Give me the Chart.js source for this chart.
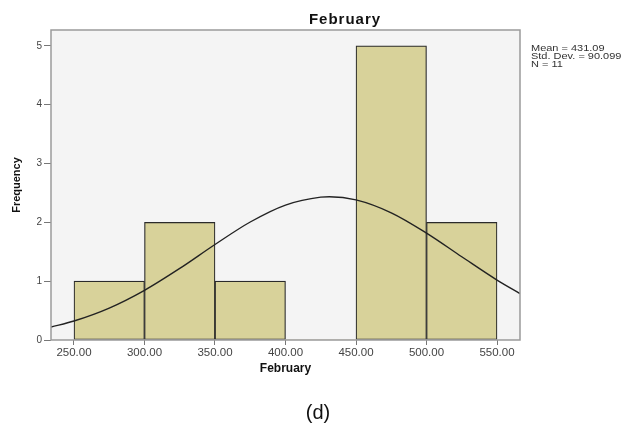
<!DOCTYPE html>
<html>
<head>
<meta charset="utf-8">
<script src="https://cdn.jsdelivr.net/npm/chart.js@4/dist/chart.umd.min.js"></script>
<style>
  html, body { margin: 0; padding: 0; background: #fff; }
  #wrap { width: 629px; height: 428px; position: relative; }
</style>
</head>
<body>
<div id="wrap"><canvas id="c" width="629" height="428"></canvas></div>
<script>
// Histogram bins (midpoints) and their counts
const binCenters = [275, 325, 375, 425, 475, 525];
const binCounts  = [1, 2, 1, 0, 5, 2];

// Fitted normal curve (scaled to counts), sampled along the axis
const curveX = [233.7, 250, 275, 300, 325, 350, 375, 400, 425, 431.09, 450, 475, 500, 525, 550, 566.3];
const curveY = [0.221, 0.323, 0.543, 0.845, 1.217, 1.624, 2.006, 2.294, 2.429, 2.435, 2.382, 2.162, 1.817, 1.415, 1.019, 0.790];

// Axis ticks
const xTickValues = [250, 300, 350, 400, 450, 500, 550];
const xTickLabels = ["250.00", "300.00", "350.00", "400.00", "450.00", "500.00", "550.00"];
const yTickValues = [0, 1, 2, 3, 4, 5];

// Summary statistics
const statLines = ["Mean = 431.09", "Std. Dev. = 90.099", "N = 11"];

const FONT = "'Liberation Sans', Arial, sans-serif";

const frame = {
  id: 'frame',
  beforeDatasetsDraw(chart) {
    const { ctx, chartArea: a } = chart;
    ctx.save();
    ctx.fillStyle = '#f4f4f4';
    ctx.fillRect(a.left, a.top, a.right - a.left, a.bottom - a.top);
    ctx.restore();
  },
  afterDraw(chart) {
    const { ctx, chartArea: a } = chart;
    ctx.save();
    ctx.strokeStyle = '#9a9a9a';
    ctx.lineWidth = 1.5;
    ctx.strokeRect(a.left, a.top, a.right - a.left, a.bottom - a.top);

    // chart heading
    ctx.fillStyle = '#111';
    ctx.font = 'bold 15px ' + FONT;
    ctx.letterSpacing = '1px';
    ctx.textAlign = 'center';
    ctx.textBaseline = 'middle';
    ctx.fillText('February', 345, 20);
    ctx.letterSpacing = '0px';

    // summary statistics, set in a wide face
    ctx.save();
    ctx.translate(531, 0);
    ctx.scale(1.22, 1);
    ctx.font = '9px ' + FONT;
    ctx.fillStyle = '#333';
    ctx.textAlign = 'left';
    statLines.forEach((s, i) => ctx.fillText(s, 0, 48.5 + i * 8));
    ctx.restore();

    // panel label
    ctx.font = '20px ' + FONT;
    ctx.fillStyle = '#111';
    ctx.textAlign = 'center';
    ctx.fillText('(d)', 318, 413);
    ctx.restore();
  }
};

new Chart(document.getElementById('c'), {
  type: 'bar',
  data: {
    datasets: [
      {
        type: 'line',
        data: curveX.map((x, i) => ({ x, y: curveY[i] })),
        borderColor: '#222',
        borderWidth: 1.4,
        pointRadius: 0,
        cubicInterpolationMode: 'monotone',
        fill: false,
        order: 1
      },
      {
        type: 'bar',
        data: binCenters.map((x, i) => ({ x, y: binCounts[i] })),
        backgroundColor: 'rgb(216,210,154)',
        borderColor: '#2a2a2a',
        borderWidth: c => (c.raw && c.raw.y === 0 ? 0 : 1.2),
        borderSkipped: false,
        barPercentage: 1,
        categoryPercentage: 1,
        order: 2
      }
    ]
  },
  plugins: [frame],
  options: {
    responsive: false,
    animation: false,
    layout: { padding: { top: 30, right: 109, bottom: 52, left: 0 } },
    plugins: { legend: { display: false }, tooltip: { enabled: false }, title: { display: false } },
    scales: {
      x: {
        type: 'linear',
        offset: false,
        min: 233.7,
        max: 566.3,
        afterBuildTicks: s => { s.ticks = xTickValues.map(v => ({ value: v })); },
        afterFit: s => { s.height = 36; },
        grid: { offset: false, drawOnChartArea: false, drawTicks: true, tickLength: 5, color: '#777' },
        border: { display: false },
        ticks: {
          autoSkip: false,
          maxRotation: 0,
          padding: 1,
          color: '#444',
          font: { family: FONT, size: 11.5 },
          callback: v => xTickLabels[xTickValues.indexOf(v)] ?? ''
        },
        title: {
          display: true,
          text: 'February',
          color: '#111',
          font: { family: FONT, size: 12, weight: 'bold' },
          padding: { top: 4, bottom: 0 }
        }
      },
      y: {
        min: 0,
        max: 5.27,
        afterBuildTicks: s => { s.ticks = yTickValues.map(v => ({ value: v })); },
        afterFit: s => { s.width = 51; },
        grid: { drawOnChartArea: false, drawTicks: true, tickLength: 7, color: '#777' },
        border: { display: false },
        ticks: {
          padding: 2,
          color: '#444',
          font: { family: FONT, size: 10 }
        },
        title: {
          display: true,
          text: 'Frequency',
          color: '#111',
          font: { family: FONT, size: 11, weight: 'bold' },
          padding: { top: 10, bottom: 0 }
        }
      }
    }
  }
});
</script>
</body>
</html>
